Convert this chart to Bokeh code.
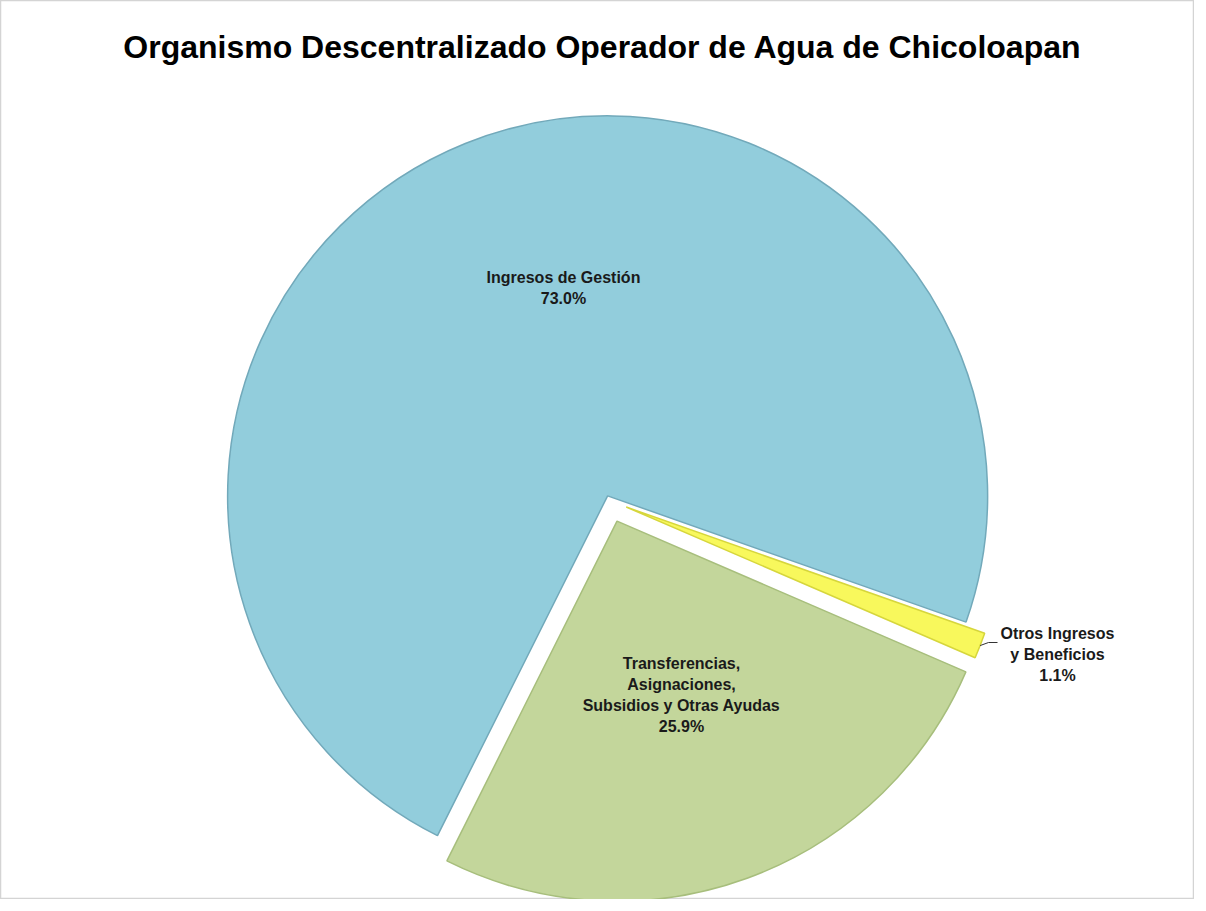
import math
from bokeh.plotting import figure
from bokeh.models import Range1d, Label, ColumnDataSource
from bokeh.embed import file_html
from bokeh.resources import INLINE
from bokeh.core.properties import value

# ---------------- data ----------------
title_text = "Organismo Descentralizado Operador de Agua de Chicoloapan"
categories = ["Ingresos de Gestión",
              "Otros Ingresos y Beneficios",
              "Transferencias, Asignaciones, Subsidios y Otras Ayudas"]
shares = [73.0, 1.1, 25.9]
label_lines = [["Ingresos de Gestión"],
               ["Otros Ingresos", "y Beneficios"],
               ["Transferencias,", "Asignaciones,", "Subsidios y Otras Ayudas"]]

# ---------------- layout / style ----------------
W, H = 1194, 899
def px(x):  # screenshot pixel -> data x
    return x
def py(y):  # screenshot pixel -> data y
    return H - y

CX, CY = px(609), py(500)
R = 380
first_angle_cw = 206.6          # degrees clockwise from 12 o'clock
explode = [5, 18, 22]
fills = ["#92CDDC", "#F8F85C", "#C3D69B"]
edges = ["#72A9BA", "#D6D63C", "#A7BE7C"]
label_centers = [(563, 287), (1057, 654), (681, 694)]
LINE_H = 21
FONT = value("Liberation Sans")

p = figure(width=W, height=H, output_backend="svg", toolbar_location=None,
           x_range=Range1d(0, W), y_range=Range1d(0, H), min_border=0)
p.axis.visible = False
p.grid.visible = False
p.background_fill_color = "white"
p.border_fill_color = "white"
p.outline_line_color = "#D4D4D4"
p.outline_line_width = 1.5

total = sum(shares)
xs, ys, sa, ea, mids = [], [], [], [], []
cum = first_angle_cw
for v, ex in zip(shares, explode):
    span = 360.0 * v / total
    t0, t1 = cum, cum + span
    tm = (t0 + t1) / 2
    mids.append(tm)
    xs.append(CX + ex * math.sin(math.radians(tm)))
    ys.append(CY + ex * math.cos(math.radians(tm)))
    sa.append(math.radians(90 - t1))
    ea.append(math.radians(90 - t0))
    cum = t1

src = ColumnDataSource(dict(x=xs, y=ys, start=sa, end=ea, fill=fills, edge=edges, cat=categories))
p.wedge(x="x", y="y", radius=R, radius_units="screen", start_angle="start", end_angle="end",
        fill_color="fill", line_color="edge", line_width=1.5, source=src)

# labels
tx, ty, tt = [], [], []
for lines, v, (lx, ly) in zip(label_lines, shares, label_centers):
    all_lines = lines + [f"{v:.1f}%"]
    n = len(all_lines)
    for i, t in enumerate(all_lines):
        tx.append(px(lx))
        ty.append(py(ly + (i - (n - 1) / 2) * LINE_H))
        tt.append(t)
p.text(x=tx, y=ty, text=tt, text_align="center", text_baseline="middle",
       text_font=FONT, text_font_style="bold", text_font_size="16px", text_color="#1a1a1a")

# leader line for the small slice
k = 1
tip_x = xs[k] + R * math.sin(math.radians(mids[k]))
tip_y = ys[k] + R * math.cos(math.radians(mids[k]))
p.line(x=[tip_x, px(988), px(997)], y=[tip_y, py(642), py(642)], line_color="#333333", line_width=1)

p.add_layout(Label(x=px(602), y=py(46), text=title_text, text_align="center", text_baseline="middle",
                   text_font="Liberation Sans", text_font_style="bold", text_font_size="32px",
                   text_color="black"))

open("out.html", "w").write(file_html(p, INLINE))
